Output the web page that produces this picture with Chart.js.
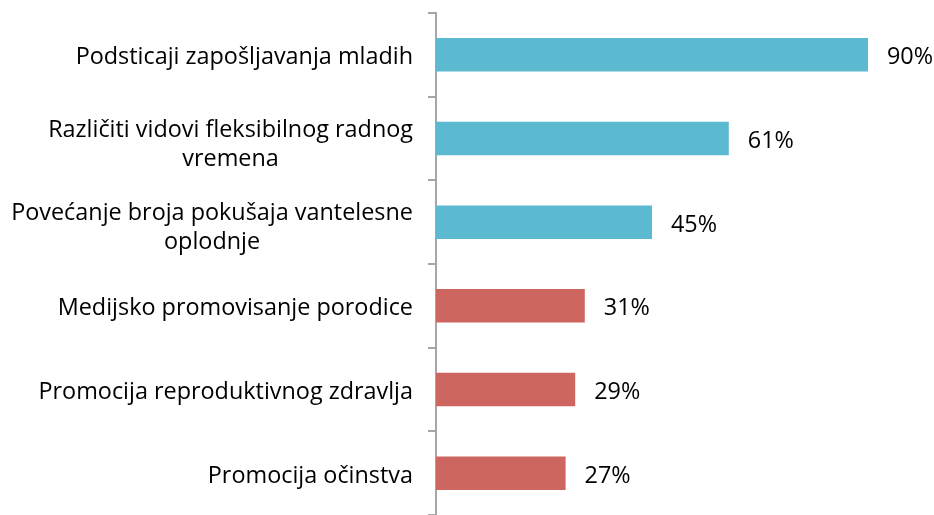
<!DOCTYPE html>
<html><head><meta charset="utf-8">
<script src="https://cdn.jsdelivr.net/npm/chart.js@4/dist/chart.umd.min.js"></script>
<style>html,body{margin:0;padding:0;background:#fff;}#wrap{width:934px;height:515px;position:relative;}</style>
</head><body><div id="wrap"><canvas id="c"></canvas></div>
<script>
const categories = [
  ["Podsticaji zapošljavanja mladih"],
  ["Različiti vidovi fleksibilnog radnog", "vremena"],
  ["Povećanje broja pokušaja vantelesne", "oplodnje"],
  ["Medijsko promovisanje porodice"],
  ["Promocija reproduktivnog zdravlja"],
  ["Promocija očinstva"]
];
const values = [90, 61, 45, 31, 29, 27];
const barColors = ["#5BB9D0", "#5BB9D0", "#5BB9D0", "#CD6661", "#CD6661", "#CD6661"];
const FONT = '23.4px "Open Sans", sans-serif';

const labelPlugin = {
  id: 'customLabels',
  afterDraw(chart) {
    const ctx = chart.ctx;
    const y = chart.scales.y;
    const meta = chart.getDatasetMeta(0);
    ctx.save();
    ctx.font = FONT;
    ctx.fillStyle = '#000';
    ctx.textBaseline = 'middle';
    categories.forEach((lines, i) => {
      const cy = y.getPixelForValue(i);
      const w = Math.max(...lines.map(l => ctx.measureText(l).width));
      const cx = y.right - 23 - w / 2;
      ctx.textAlign = 'center';
      const lh = 29;
      const start = cy + 3 - (lines.length - 1) * lh / 2 + (lines.length > 1 ? 3 : 0);
      lines.forEach((l, k) => ctx.fillText(l, cx, start + k * lh));
    });
    ctx.textAlign = 'left';
    meta.data.forEach((bar, i) => {
      ctx.fillText(values[i] + '%', bar.x + 19, bar.y + 3);
    });
    ctx.restore();
  }
};

new Chart(document.getElementById('c'), {
  type: 'bar',
  data: {
    labels: categories,
    datasets: [{ data: values, backgroundColor: barColors, barPercentage: 0.4, categoryPercentage: 1.0 }]
  },
  options: {
    indexAxis: 'y',
    responsive: true,
    maintainAspectRatio: false,
    animation: false,
    layout: { padding: { left: 0, right: 18, top: 13, bottom: 0 } },
    plugins: { legend: { display: false }, tooltip: { enabled: false } },
    scales: {
      x: { display: false, min: 0, max: 100 },
      y: {
        afterFit(scale) { scale.width = 436; },
        ticks: { display: false },
        grid: { drawOnChartArea: false, drawTicks: true, tickLength: 8, color: '#A6A6A6', lineWidth: 2, offset: true },
        border: { display: true, color: '#A6A6A6', width: 2 }
      }
    }
  },
  plugins: [labelPlugin]
});
</script></body></html>
